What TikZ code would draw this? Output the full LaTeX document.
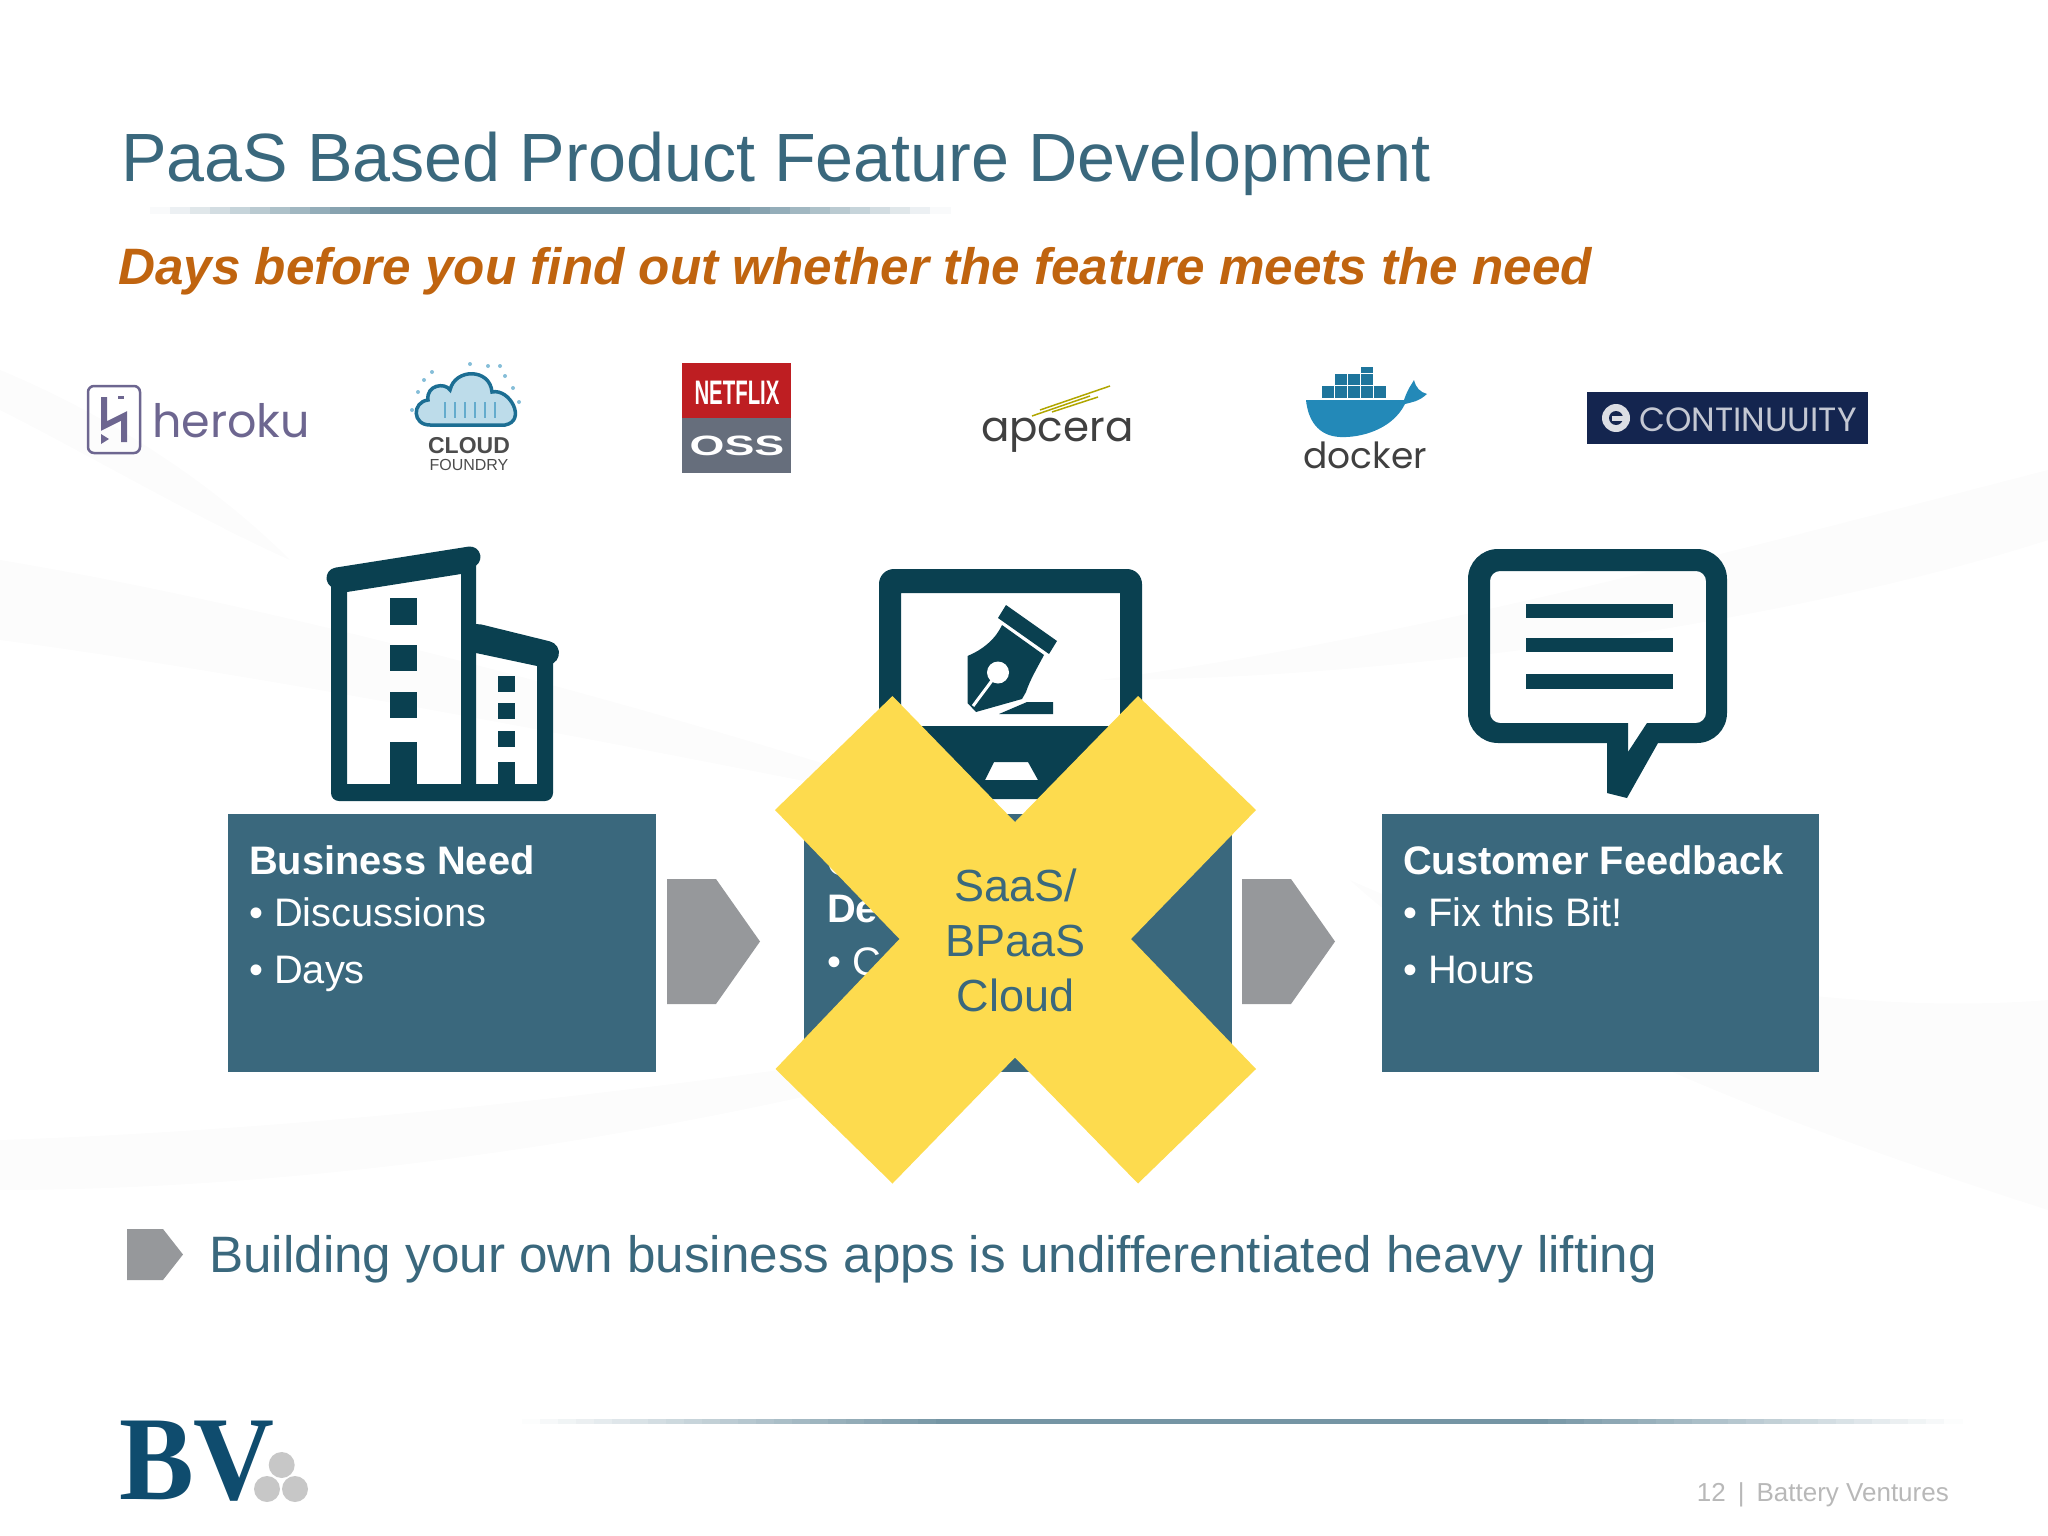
\documentclass[tikz,border=0pt]{standalone}
\usepackage{fontspec}
\setmainfont{Liberation Sans}
\newfontfamily\logofont{Poppins}
\newfontfamily\bvfont{Liberation Serif}
\usepackage{tikz}
\newcommand{\fs}[1]{\fontsize{#1}{#1}\selectfont}
\definecolor{slate}{HTML}{3A687D}
\definecolor{icondark}{HTML}{0A4050}
\definecolor{arrowgray}{HTML}{96989B}
\definecolor{crossyellow}{HTML}{FDDB4E}
\definecolor{subtitleorange}{HTML}{C0640F}
\definecolor{herokupurple}{HTML}{6D6690}
\definecolor{dockerblue}{HTML}{2389B8}
\definecolor{navylogo}{HTML}{14254F}
\definecolor{bvblue}{HTML}{0F4C6E}
\definecolor{netflixred}{HTML}{BE1E22}
\definecolor{ossgray}{HTML}{666E7C}

\begin{document}
\begin{tikzpicture}[x=1pt,y=-1pt,
    bluebox/.style={fill=slate,minimum width=#1,minimum height=258,inner sep=0pt},
    boxhead/.style={anchor=base west,text=white,font=\fs{39.8}\bfseries,inner sep=0pt},
    boxitem/.style={anchor=base west,text=white,font=\fs{39.8},inner sep=0pt},
    swoosh/.style={fill=black!7,opacity=.18},
    logotext/.style={inner sep=0pt,font=\logofont\fs{#1}}]
    \useasboundingbox (0,0) rectangle (2048,1536);

    % background
    \fill[swoosh] (0,560) .. controls (300,610) and (700,720) .. (1000,820) .. controls (700,760) and (300,680) .. (0,640) -- cycle;
    \fill[swoosh] (2048,470) .. controls (1700,560) and (1400,640) .. (1100,680) .. controls (1400,680) and (1800,620) .. (2048,540) -- cycle;
    \fill[swoosh] (0,370) .. controls (120,420) and (220,490) .. (290,560) .. controls (200,520) and (80,450) .. (0,410) -- cycle;
    \fill[swoosh] (0,1140) .. controls (300,1130) and (700,1090) .. (1100,1020) .. controls (700,1140) and (300,1190) .. (0,1190) -- cycle;
    \fill[swoosh] (2048,1000) .. controls (1800,1020) and (1500,950) .. (1350,880) .. controls (1500,1020) and (1800,1130) .. (2048,1210) -- cycle;

    % title
    \node[anchor=base west,inner sep=0pt,text=slate,font=\fs{68.3}] (title) at (121,182) {PaaS Based Product Feature Development};
    \foreach \i in {0,...,39} {
        \pgfmathsetmacro{\m}{75*min(1,1.7*(1-abs(\i-19.5)/20))}
        \fill[slate!\m!white] ({150+\i*20},207) rectangle +(20.5,7);
    }
    \node[anchor=base west,inner sep=0pt,text=subtitleorange,font=\fs{51.2}\bfseries\itshape] (subtitle) at (118,284) {Days before you find out whether the feature meets the need};

    % heroku
    \draw[herokupurple,line width=2.5,rounded corners=6] (88,386) rectangle (140,453);
    \draw[herokupurple,line width=6] (104,397) -- (104,426) -- (124,416) -- (124,442);
    \draw[herokupurple,line width=3] (118,397) -- (124,397);
    \fill[herokupurple] (101,434) -- (109,439) -- (101,444) -- cycle;
    \node[logotext=46,anchor=base west,text=herokupurple] (heroku) at (152,437) {heroku};

    % cloud foundry
    \foreach \a/\b in {418/392,424/380,432/372,505/376,513/388,519/402,470/364,488/366,412/410,500/366}
        \fill[dockerblue!55] (\a,\b) circle (2);
    \draw[dockerblue!80!black,line width=3.5,fill=dockerblue!30] (430,425) .. controls (412,425) and (412,402) .. (428,400) .. controls (426,385) and (445,382) .. (450,390) .. controls (455,368) and (490,368) .. (492,392) .. controls (510,388) and (527,421) .. (505,425) -- cycle;
    \foreach \a in {445,455,...,495}
        \draw[dockerblue!70,line width=2] (\a,402) -- (\a,418);
    \node[anchor=base,inner sep=0pt,text=black!70,font=\fs{23}\bfseries] (cloud) at (469,453) {CLOUD};
    \node[anchor=base,inner sep=0pt,text=black!70,font=\fs{16}] (foundry) at (469,470) {FOUNDRY};

    % netflix
    \fill[netflixred] (682,363) rectangle (791,418);
    \fill[ossgray] (682,418) rectangle (791,473);
    \node[inner sep=0pt,text=white,font=\fs{34}\bfseries] (netflix) at (737,393) {\scalebox{.6}[1]{NETFLIX}};
    \node[inner sep=0pt,text=white,font=\fs{28}\bfseries] (oss) at (737,446) {\scalebox{1.6}[1]{OSS}};

    % apcera
    \foreach \a/\b/\c/\d in {1040/410/1110/386,1032/416/1090/396,1052/412/1098/397}
        \draw[olive!70!yellow,line width=1.5] (\a,\b) -- (\c,\d);
    \node[logotext=42,anchor=base west,text=black!75] (apcera) at (981,441) {apcera};

    % docker
    \foreach \a in {1322,1335,1348,1361,1374}
        \fill[dockerblue!85!black] (\a,386) rectangle +(11.5,11.5);
    \foreach \a in {1335,1348,1361}
        \fill[dockerblue!85!black] (\a,374) rectangle +(11.5,11);
    \fill[dockerblue!85!black] (1361,367) rectangle +(11.5,6);
    \fill[dockerblue] (1306,400) -- (1404,400) .. controls (1408,388) and (1412,384) .. (1414,380) .. controls (1416,388) and (1420,392) .. (1427,394) .. controls (1418,402) and (1412,402) .. (1405,404) .. controls (1392,430) and (1360,438) .. (1340,437) .. controls (1318,436) and (1308,420) .. cycle;
    \node[logotext=36,anchor=base,text=black!75] (docker) at (1365,468) {docker};

    % continuuity
    \fill[navylogo] (1587,392) rectangle (1868,444);
    \fill[white!85!navylogo] (1616,418) circle (14);
    \fill[navylogo] (1616,418) circle (7);
    \fill[white!85!navylogo] (1612,415.5) rectangle (1630,420.5);
    \node[logotext=33.6,anchor=base west,text=white!75!navylogo] (continuuity) at (1639,431) {CONTINUUITY};

    % building
    \draw[icondark,line width=21,line cap=round] (337,578) -- (470,557);
    \draw[icondark,line width=24,line cap=round] (478,636) -- (547,653);
    \fill[icondark,even odd rule] (331,580) -- (476,560) -- (476,640) -- (553,655) -- (553,793) arc (0:90:8) -- (339,801) arc (90:180:8) -- cycle
        (347,592) -- (461,574) -- (461,784) -- (347,784) -- cycle
        (476,653) -- (537,666) -- (537,784) -- (476,784) -- cycle;
    \foreach \a/\b in {598/625,645/671,692/718,742/784}
        \fill[icondark] (390,\a) rectangle (417,\b);
    \foreach \a/\b in {676/692,703/719,731/747,762/784}
        \fill[icondark] (498,\a) rectangle (515,\b);

    % monitor
    \fill[icondark,even odd rule,rounded corners=15] (879,569) rectangle (1142,799)
        [sharp corners] (901,593) rectangle (1120,726)
        (994,762) -- (1028,762) -- (1038,780) -- (985,780) -- cycle;
    \fill[icondark] (1006,605) -- (1057,641) -- (1049,654) -- (998,618) -- cycle;
    \fill[icondark] (1002,625) -- (1044,655) .. controls (1036,670) and (1030,680) .. (1026,692) -- (1022,699) -- (976,712) -- (967.5,703) -- (967.5,656) .. controls (982,650) and (995,640) .. cycle;
    \fill[white] (998,672.5) circle (11);
    \draw[white,line width=3] (998,672.5) -- (973,706);
    \fill[icondark] (999,714) -- (1027,702) -- (1053,702) -- (1053,714) -- cycle;

    % speech bubble
    \fill[icondark,even odd rule] (1498,549) -- (1697,549) arc (-90:0:30) -- (1727,713) arc (0:90:30) -- (1658,743) -- (1627,798) -- (1607,793) -- (1607,743) -- (1498,743) arc (90:180:30) -- (1468,579) arc (180:270:30) -- cycle
        (1500,571) -- (1696,571) arc (-90:0:10) -- (1706,713) arc (0:90:10) -- (1647,723) -- (1628,752) -- (1628,723) -- (1500,723) arc (90:180:10) -- (1490,581) arc (180:270:10) -- cycle;
    \foreach \a/\b in {604/618,638/652,674/689}
        \fill[icondark] (1526,\a) rectangle (1673,\b);

    % boxes
    \node[bluebox=428] (need) at (442,943) {};
    \node[bluebox=428] (dev) at (1018,943) {};
    \node[bluebox=437] (feedback) at (1600.5,943) {};
    \node[boxhead] (needhead) at (249,874) {Business Need};
    \node[boxitem] (needa) at (249,926) {• Discussions};
    \node[boxitem] (needb) at (249,983) {• Days};
    \node[boxhead] (devhead) at (827,875) {C};
    \node[boxhead] (devheadb) at (827,922) {De};
    \node[boxitem] (deva) at (827,975) {• C};
    \node[boxhead] (feedbackhead) at (1403,874) {Customer Feedback};
    \node[boxitem] (feedbacka) at (1403,926) {• Fix this Bit!};
    \node[boxitem] (feedbackb) at (1403,983) {• Hours};

    % arrows
    \foreach \a in {667,1242}
        \fill[arrowgray] (\a,879) -- ++(49,0) -- ++(44,62.5) -- ++(-44,62.5) -- ++(-49,0) -- cycle;

    % cross
    \fill[crossyellow] (892.5,696) -- (1015,822) -- (1138,696) -- (1256,810) -- (1131,939) -- (1256,1069) -- (1138,1183.5) -- (1015,1057.5) -- (892.5,1183.5) -- (775.5,1069) -- (899.5,939) -- (775,810) -- cycle;
    \node[inner sep=0pt,text=slate,font=\fs{45},align=center] (saas) at (1015.5,940) {SaaS/\\[10pt]BPaaS\\[10pt]Cloud};

    % bottom line
    \fill[arrowgray] (127,1229) -- (163,1229) -- (183,1254.5) -- (163,1280) -- (127,1280) -- cycle;
    \node[anchor=base west,inner sep=0pt,text=slate,font=\fs{51.2}] (bottomline) at (209,1272) {Building your own business apps is undifferentiated heavy lifting};

    % footer
    \foreach \i in {0,...,79} {
        \pgfmathsetmacro{\m}{70*min(1,1.7*(1-abs(\i-39.5)/40))}
        \fill[slate!\m!white] ({522+\i*18},1419) rectangle +(18.5,5);
    }
    \node[anchor=base west,inner sep=0pt,text=bvblue,font=\bvfont\bfseries\fs{112}] (bv) at (119,1499) {\scalebox{1}[1.07]{BV}};
    \foreach \a/\b in {281.7/1465,267/1489,295/1489}
        \fill[black!22] (\a,\b) circle (13);
    \node[anchor=base east,inner sep=0pt,text=black!28,font=\fs{26}] (pagenum) at (1949,1501) {12\hspace{12pt}|\hspace{12pt}Battery Ventures};
\end{tikzpicture}
\end{document}
